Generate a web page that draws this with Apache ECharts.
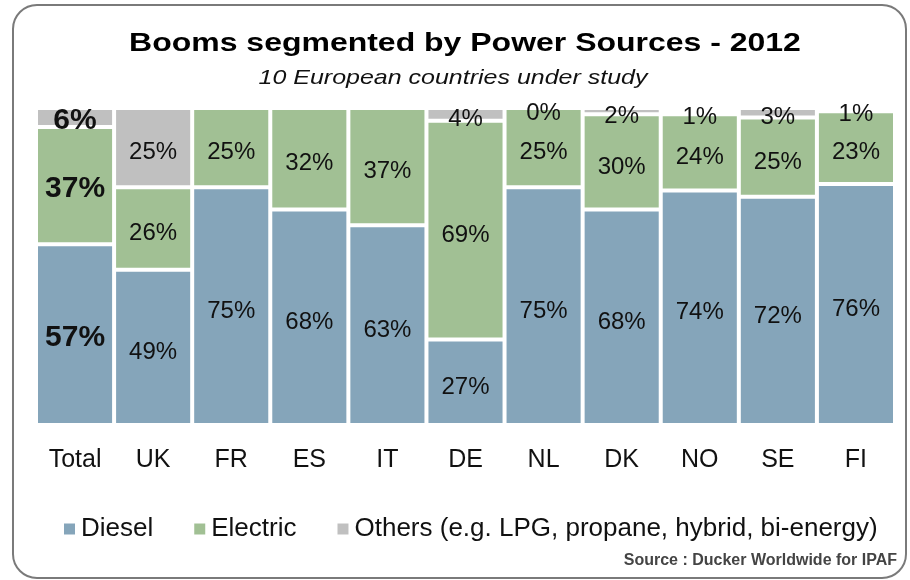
<!DOCTYPE html>
<html>
<head>
<meta charset="utf-8">
<script src="https://cdn.jsdelivr.net/npm/echarts@6/dist/echarts.min.js"></script>
<style>
  html, body { margin: 0; padding: 0; background: #fff; }
  #chart { width: 910px; height: 580px; }
</style>
</head>
<body>
<div id="chart"></div>
<script>
// data (percent of booms per power source)
const countries = ['Total', 'UK', 'FR', 'ES', 'IT', 'DE', 'NL', 'DK', 'NO', 'SE', 'FI'];
const diesel   = [57, 49, 75, 68, 63, 27, 75, 68, 74, 72, 76];
const electric = [37, 26, 25, 32, 37, 69, 25, 30, 24, 25, 23];
const others   = [6, 25, null, null, null, 4, 0, 2, 1, 3, 1];

const font = '"Liberation Sans", Arial, sans-serif';

// Total column gets bold, bigger labels
const withLabels = (arr) => arr.map((v, i) => {
    if (i === 0) {
        return { value: v, label: { fontWeight: 'bold', fontSize: 30, offset: [0, 3] } };
    }
    return v;
});

const makeSeries = (name, data, color) => ({
    name: name,
    type: 'bar',
    stack: 'all',
    data: withLabels(data),
    barCategoryGap: '0%',
    itemStyle: {
        color: color,
        borderColor: '#fff',
        borderWidth: 2,
    },
    label: {
        show: true,
        position: 'inside',
        offset: [0, 5],
        formatter: '{c}%',
        fontFamily: font,
        fontSize: 24,
        color: '#111',
    },
});

const myChart = echarts.init(document.getElementById('chart'));

const option = {
    backgroundColor: '#fff',
    animation: false,
    legend: {
        left: 62,
        top: 516,
        padding: 0,
        icon: 'rect',
        itemWidth: 13,
        itemHeight: 13,
        itemGap: 39,
        textStyle: {
            fontFamily: font,
            fontSize: 26,
            color: '#111',
        },
        data: ['Diesel', 'Electric', 'Others (e.g. LPG, propane, hybrid, bi-energy)'],
    },
    grid: {
        left: 36,
        right: 15,
        top: 108,
        bottom: 155,
    },
    xAxis: {
        type: 'category',
        data: countries,
        axisLine: { show: false },
        axisTick: { show: false },
        axisLabel: {
            margin: 23,
            fontFamily: font,
            fontSize: 25,
            color: '#111',
        },
    },
    yAxis: {
        type: 'value',
        min: 0,
        max: 100,
        show: false,
    },
    series: [
        makeSeries('Diesel', diesel, '#85a5ba'),
        makeSeries('Electric', electric, '#a1c094'),
        makeSeries('Others (e.g. LPG, propane, hybrid, bi-energy)', others, '#c0c0c0'),
    ],
    graphic: [
        {
            type: 'rect',
            shape: { x: 13, y: 5, width: 893, height: 573, r: 24 },
            style: { fill: 'none', stroke: '#7a7a7a', lineWidth: 2 },
            z: 100,
            silent: true,
        },
        // title and subtitle are drawn wide in the original
        {
            type: 'text',
            x: 465,
            y: 44,
            scaleX: 1.23,
            style: {
                text: 'Booms segmented by Power Sources - 2012',
                font: 'bold 26px "Liberation Sans", Arial, sans-serif',
                fill: '#000',
                align: 'center',
                verticalAlign: 'middle',
            },
        },
        {
            type: 'text',
            x: 453,
            y: 78,
            scaleX: 1.19,
            style: {
                text: '10 European countries under study',
                font: 'italic 21px "Liberation Sans", Arial, sans-serif',
                fill: '#111',
                align: 'center',
                verticalAlign: 'middle',
            },
        },
        {
            type: 'text',
            right: 13,
            top: 553,
            style: {
                text: 'Source : Ducker Worldwide for IPAF',
                font: 'bold 16px "Liberation Sans", Arial, sans-serif',
                fill: '#444',
            },
        },
    ],
};

myChart.setOption(option);
</script>
</body>
</html>
